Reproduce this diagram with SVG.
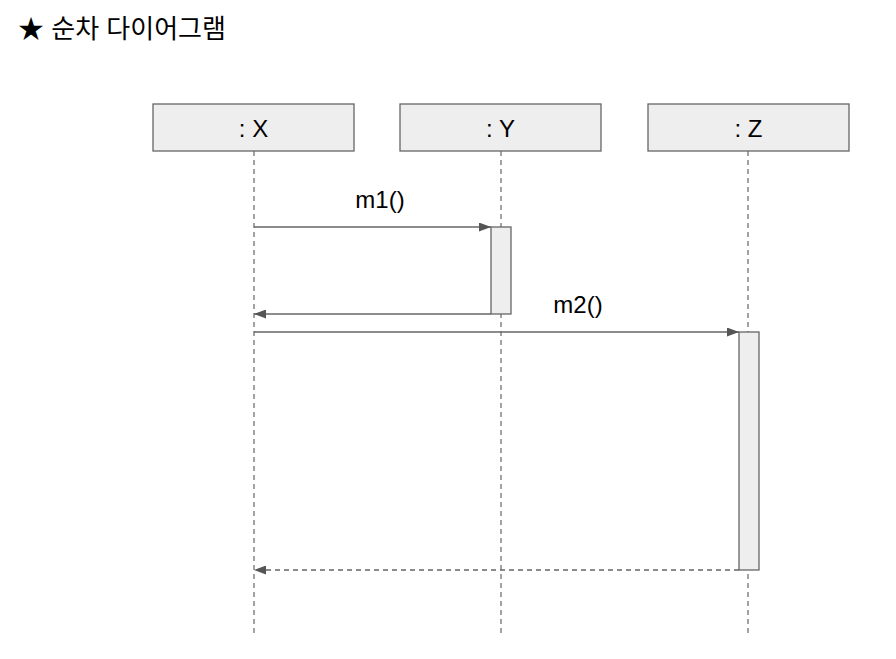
<svg xmlns="http://www.w3.org/2000/svg" width="896" height="659" viewBox="0 0 896 659">
<style>
.box{fill:#eeeeee;stroke:#666666;stroke-width:1.3}
.act{fill:#eeeeee;stroke:#666666;stroke-width:1.3}
.life{stroke:#666666;stroke-width:1.2;stroke-dasharray:5 4;fill:none}
.msg{stroke:#666666;stroke-width:1.3;fill:none}
.ret{stroke:#666666;stroke-width:1.3;fill:none;stroke-dasharray:5 4}
.lbl{font-family:"Liberation Sans",Arial,sans-serif;font-size:24px;fill:#000}
.title{font-family:"Liberation Sans","Noto Sans CJK KR",sans-serif;font-size:26px;fill:#000}
</style>
<defs>
<marker id="ah" viewBox="0 0 12 9" refX="12" refY="4.5" markerWidth="12" markerHeight="9" markerUnits="userSpaceOnUse" orient="auto">
<path d="M0,0 L12,4.5 L0,9 Z" fill="#555555"/>
</marker>
</defs>
<rect width="896" height="659" fill="#ffffff"/>
<text class="title" x="18" y="38">★ 순차 다이어그램</text>
<g id="lifelines">
<line class="life" x1="254" y1="151" x2="254" y2="637"/>
<line class="life" x1="501" y1="151" x2="501" y2="637"/>
<line class="life" x1="748" y1="151" x2="748" y2="637"/>
</g>
<g id="X"><rect class="box" x="153" y="104" width="201" height="47"/><text class="lbl" x="253.5" y="137" text-anchor="middle">: X</text></g>
<g id="Y"><rect class="box" x="400" y="104" width="201" height="47"/><text class="lbl" x="500.5" y="137" text-anchor="middle">: Y</text></g>
<g id="Z"><rect class="box" x="648" y="104" width="201" height="47"/><text class="lbl" x="748.5" y="137" text-anchor="middle">: Z</text></g>
<g id="actY"><rect class="act" x="491" y="227" width="20" height="87"/></g>
<g id="actZ"><rect class="act" x="739" y="332" width="20" height="238"/></g>
<g id="connectors">
<line class="msg" x1="254" y1="227" x2="491" y2="227" marker-end="url(#ah)"/>
<text class="lbl" x="380" y="208" text-anchor="middle">m1()</text>
<line class="msg" x1="491" y1="314" x2="254" y2="314" marker-end="url(#ah)"/>
<line class="msg" x1="254" y1="332" x2="739" y2="332" marker-end="url(#ah)"/>
<text class="lbl" x="578" y="313" text-anchor="middle">m2()</text>
<line class="ret" x1="739" y1="570" x2="254" y2="570" marker-end="url(#ah)"/>
</g>
</svg>
